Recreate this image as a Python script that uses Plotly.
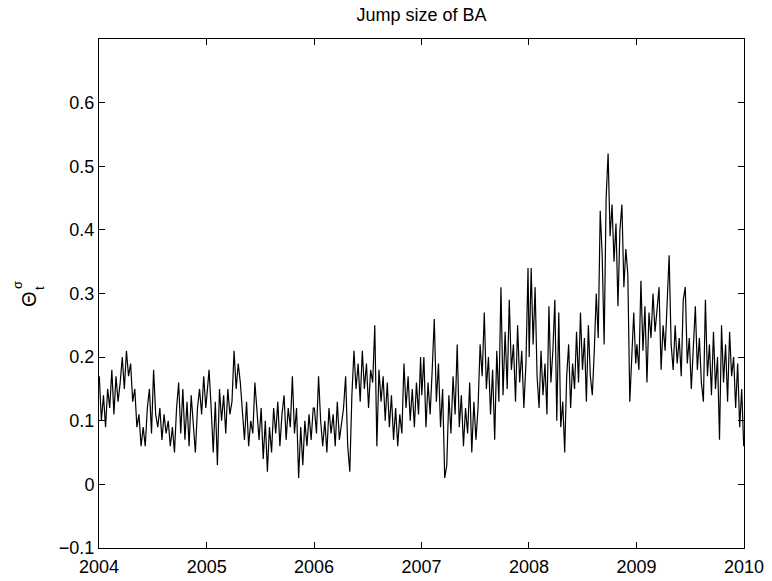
import pandas as pd
import plotly.graph_objects as go

# Weekly readings of the jump-size estimate, one list per calendar year
v2004 = [0.17, 0.10, 0.14, 0.09,
         0.15, 0.12, 0.18, 0.11, 0.17, 0.13,
         0.16, 0.20, 0.15, 0.21, 0.17, 0.19,
         0.13, 0.15, 0.09, 0.11, 0.06,
         0.09, 0.06, 0.12, 0.15, 0.08, 0.18, 0.11,
         0.09, 0.12, 0.07, 0.11, 0.08, 0.10, 0.06, 0.09, 0.05,
         0.12, 0.16, 0.08, 0.15, 0.07,
         0.13, 0.06, 0.14, 0.09, 0.05, 0.12,
         0.15, 0.11, 0.17, 0.12]
v2005 = [0.14, 0.18, 0.12,
         0.05, 0.13, 0.03, 0.15,
         0.10, 0.14, 0.08, 0.15, 0.11, 0.13,
         0.21, 0.15, 0.19, 0.16,
         0.12, 0.07, 0.13, 0.06, 0.10, 0.08,
         0.16, 0.11,
         0.07, 0.12, 0.04, 0.10, 0.02, 0.09, 0.05, 0.12,
         0.08, 0.13, 0.06, 0.11, 0.14, 0.07, 0.12, 0.09,
         0.17,
         0.08, 0.12, 0.01, 0.09, 0.03, 0.10, 0.06,
         0.11, 0.07, 0.12]
v2006 = [0.12, 0.08, 0.17, 0.10, 0.06,
         0.10, 0.05, 0.12, 0.08, 0.11, 0.06, 0.13, 0.07, 0.10, 0.12,
         0.17, 0.06, 0.02,
         0.14, 0.21, 0.15, 0.19, 0.13, 0.21,
         0.15, 0.19, 0.12, 0.18, 0.16,
         0.25, 0.06,
         0.18, 0.13, 0.17, 0.10, 0.16,
         0.09, 0.14, 0.07, 0.12, 0.06, 0.11, 0.08,
         0.19,
         0.12, 0.17, 0.10, 0.15, 0.09, 0.16, 0.11, 0.20]
v2007 = [0.14, 0.20, 0.09, 0.16, 0.11, 0.18,
         0.26, 0.13,
         0.19, 0.09, 0.15,
         0.01, 0.03,
         0.14, 0.08, 0.17,
         0.11, 0.22, 0.09, 0.14, 0.06, 0.12, 0.08, 0.16, 0.05, 0.13, 0.07, 0.12,
         0.22, 0.17, 0.27,
         0.15, 0.20, 0.11, 0.18, 0.07, 0.21, 0.13,
         0.31, 0.14,
         0.24, 0.15, 0.29, 0.18, 0.22, 0.13, 0.25, 0.16, 0.21, 0.12, 0.19, 0.34]
v2008 = [0.20, 0.34,
         0.22, 0.31,
         0.17, 0.12, 0.21, 0.14, 0.19, 0.11,
         0.28,
         0.16, 0.21,
         0.29, 0.10, 0.27,
         0.09, 0.13, 0.05,
         0.17, 0.22, 0.12, 0.19, 0.15,
         0.24, 0.16, 0.27, 0.18, 0.23, 0.13, 0.25, 0.17, 0.14, 0.21,
         0.30, 0.23,
         0.43, 0.36, 0.22,
         0.45, 0.52, 0.39,
         0.44, 0.35, 0.41,
         0.28, 0.40,
         0.44, 0.31, 0.37, 0.33,
         0.13, 0.21,
         0.27, 0.19]
v2009 = [0.22, 0.18,
         0.32,
         0.21, 0.28,
         0.16,
         0.27, 0.23, 0.30, 0.24, 0.28,
         0.31,
         0.18,
         0.25, 0.21, 0.30,
         0.36,
         0.22, 0.18, 0.25, 0.19, 0.23, 0.17,
         0.29, 0.31,
         0.19, 0.23, 0.15, 0.21,
         0.28,
         0.18, 0.23, 0.16, 0.13,
         0.29,
         0.17, 0.22, 0.14, 0.24, 0.15, 0.20,
         0.07,
         0.25,
         0.16, 0.22, 0.13, 0.24, 0.17, 0.20,
         0.12, 0.19, 0.09, 0.15,
         0.06]

years = [2004, 2005, 2006, 2007, 2008, 2009]
yearly_values = [v2004, v2005, v2006, v2007, v2008, v2009]

y_ticks = [-0.1, 0, 0.1, 0.2, 0.3, 0.4, 0.5, 0.6]
y_tick_text = ["\u22120.1", "0", "0.1", "0.2", "0.3", "0.4", "0.5", "0.6"]
x_tick_years = [2004, 2005, 2006, 2007, 2008, 2009, 2010]

# Spread each year's readings evenly over that calendar year
dates, values = [], []
for yr, vals in zip(years, yearly_values):
    end = f"{yr}-12-31" if yr == years[-1] else f"{yr}-12-29"
    dates.extend(pd.date_range(f"{yr}-01-02", end, periods=len(vals)))
    values.extend(vals)

font_family = "Liberation Sans, Arial, Helvetica, sans-serif"

fig = go.Figure()
fig.add_trace(go.Scatter(x=dates, y=values, mode="lines",
                         line=dict(color="black", width=1.2)))

axis_common = dict(showline=True, linecolor="black", linewidth=1, mirror="ticks",
                   ticks="inside", ticklen=6, tickcolor="black", tickwidth=1,
                   showgrid=False, zeroline=False, automargin=False,
                   tickfont=dict(family=font_family, size=18, color="black"))

W, H = 772, 581
ML, MR, MT, MB = 99, 28, 39, 33

fig.update_layout(
    width=W, height=H,
    margin=dict(l=ML, r=MR, t=MT, b=MB),
    paper_bgcolor="white", plot_bgcolor="white",
    showlegend=False,
    title=dict(text="Jump size of BA", x=(ML + (W - MR)) / 2 / W, xanchor="center",
               y=1 - 15 / H, yanchor="middle",
               font=dict(family=font_family, size=18, color="black")),
    xaxis=dict(range=["2004-01-01", "2010-01-01"],
               tickvals=[f"{y}-01-01" for y in x_tick_years],
               ticktext=[str(y) for y in x_tick_years],
               ticklabelstandoff=2,
               **axis_common),
    yaxis=dict(range=[-0.1, 0.7], tickvals=y_ticks, ticktext=y_tick_text,
               **axis_common),
)

# Rotated axis label: Theta with sigma stacked over subscript t (pixel positions)
label_font = dict(family=font_family, color="black")
label_parts = [("\u0398", 29, 299, 20), ("\u03c3", 17, 285, 13), ("t", 39, 288, 13)]
pw, ph = W - ML - MR, H - MT - MB
for text, px, py, size in label_parts:
    fig.add_annotation(text=text, x=(px - ML) / pw, y=(H - py - MB) / ph,
                       xref="paper", yref="paper", xanchor="center", yanchor="middle",
                       showarrow=False, textangle=-90, font=dict(size=size, **label_font))

fig.write_html("out.html")
